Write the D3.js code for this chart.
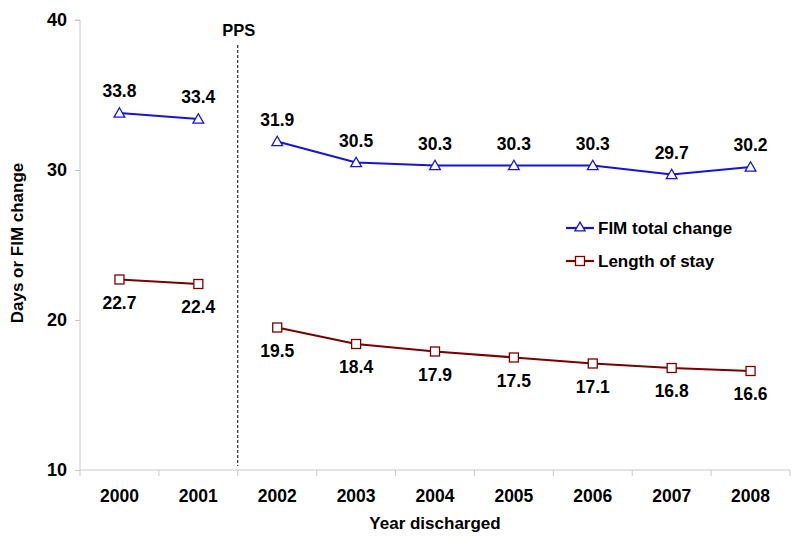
<!DOCTYPE html>
<html><head><meta charset="utf-8">
<script src="https://cdn.jsdelivr.net/npm/d3@7"></script>
<style>body{margin:0;background:#fff}text{font-family:"Liberation Sans",Arial,sans-serif;font-weight:bold}</style>
</head><body>
<svg id="c" width="800" height="547"></svg>
<script>
const years = ["2000","2001","2002","2003","2004","2005","2006","2007","2008"];
const fimChange = [33.8,33.4,31.9,30.5,30.3,30.3,30.3,29.7,30.2];
const lengthOfStay = [22.7,22.4,19.5,18.4,17.9,17.5,17.1,16.8,16.6];
const yTicks = [10,20,30,40];
const segments = [[0,1],[2,8]];
const seriesNames = ["FIM total change","Length of stay"];

const svg = d3.select("#c");
const L=80,R=790,T=20,B=470;
const x = d3.scaleBand().domain(years).range([L,R]);
const y = d3.scaleLinear().domain([10,40]).range([B,T]);
const cx = d => x(d)+x.bandwidth()/2;

// y axis
const ya = svg.append("g").attr("transform",`translate(${L},0)`).call(d3.axisLeft(y).tickValues(yTicks).tickSize(5).tickPadding(8));
ya.selectAll("path,line").attr("stroke","#c8c8c8");
ya.select(".domain").attr("d",`M-5,${T}H0V${B}`);
ya.selectAll("text").attr("font-size",18).attr("fill","#000").attr("font-family","Liberation Sans, Arial").attr("font-weight","bold");

// x axis with ticks between categories
const xa = svg.append("g").attr("transform",`translate(0,${B})`);
xa.append("line").attr("x1",L).attr("x2",R).attr("stroke","#c8c8c8");
const bounds = years.map(d=>x(d)).concat([R]);
xa.selectAll("line.t").data(bounds).join("line").attr("class","t").attr("x1",d=>d).attr("x2",d=>d).attr("y1",0).attr("y2",6).attr("stroke","#c8c8c8");
xa.selectAll("text").data(years).join("text").attr("x",d=>cx(d)).attr("y",32).attr("text-anchor","middle").attr("font-size",17.5).text(d=>d);

// axis titles
svg.append("text").attr("x",435).attr("y",529).attr("text-anchor","middle").attr("font-size",17).text("Year discharged");
svg.append("text").attr("transform",`translate(23,${(T+B)/2-2}) rotate(-90)`).attr("text-anchor","middle").attr("font-size",17).text("Days or FIM change");

// PPS line
const px = x("2002");
svg.append("line").attr("x1",px).attr("x2",px).attr("y1",45).attr("y2",466).attr("stroke","#000").attr("stroke-width",1).attr("stroke-dasharray","3,2");
svg.append("text").attr("x",px+1).attr("y",36).attr("text-anchor","middle").attr("font-size",16.5).text("PPS");

const blue="#1414dc", red="#7a0000";
const line = d3.line().x(d=>cx(years[d.i])).y(d=>y(d.v));
function drawSeries(vals,color,marker,labelDy){
  segments.forEach(([a,b])=>{
    const pts=d3.range(a,b+1).map(i=>({i,v:vals[i]}));
    svg.append("path").datum(pts).attr("d",line).attr("fill","none").attr("stroke",color).attr("stroke-width",2.2);
  });
  const g=svg.append("g");
  vals.forEach((v,i)=>{
    const X=cx(years[i]),Y=y(v);
    if(marker==="tri") g.append("path").attr("d",d3.symbol(d3.symbolTriangle,50)()).attr("transform",`translate(${X},${Y+1})`).attr("fill","#fff").attr("stroke",color).attr("stroke-width",1.3);
    else g.append("rect").attr("x",X-4.5).attr("y",Y-4.5).attr("width",9).attr("height",9).attr("fill","#fff").attr("stroke",color).attr("stroke-width",1.3);
    svg.append("text").attr("x",X).attr("y",Y+labelDy).attr("text-anchor","middle").attr("font-size",17.5).text(v.toFixed(1));
  });
}
drawSeries(fimChange,blue,"tri",-16);
drawSeries(lengthOfStay,red,"sq",29);

// legend
const lg=[{n:seriesNames[0],c:blue,m:"tri",y:228},{n:seriesNames[1],c:red,m:"sq",y:261}];
lg.forEach(d=>{
  svg.append("line").attr("x1",566).attr("x2",594).attr("y1",d.y).attr("y2",d.y).attr("stroke",d.c).attr("stroke-width",2.2);
  if(d.m==="tri") svg.append("path").attr("d",d3.symbol(d3.symbolTriangle,45)()).attr("transform",`translate(580,${d.y})`).attr("fill","#fff").attr("stroke",d.c).attr("stroke-width",1.3);
  else svg.append("rect").attr("x",575.5).attr("y",d.y-4.5).attr("width",9).attr("height",9).attr("fill","#fff").attr("stroke",d.c).attr("stroke-width",1.3);
  svg.append("text").attr("x",598).attr("y",d.y+6).attr("font-size",17).text(d.n);
});
</script>
</body></html>
